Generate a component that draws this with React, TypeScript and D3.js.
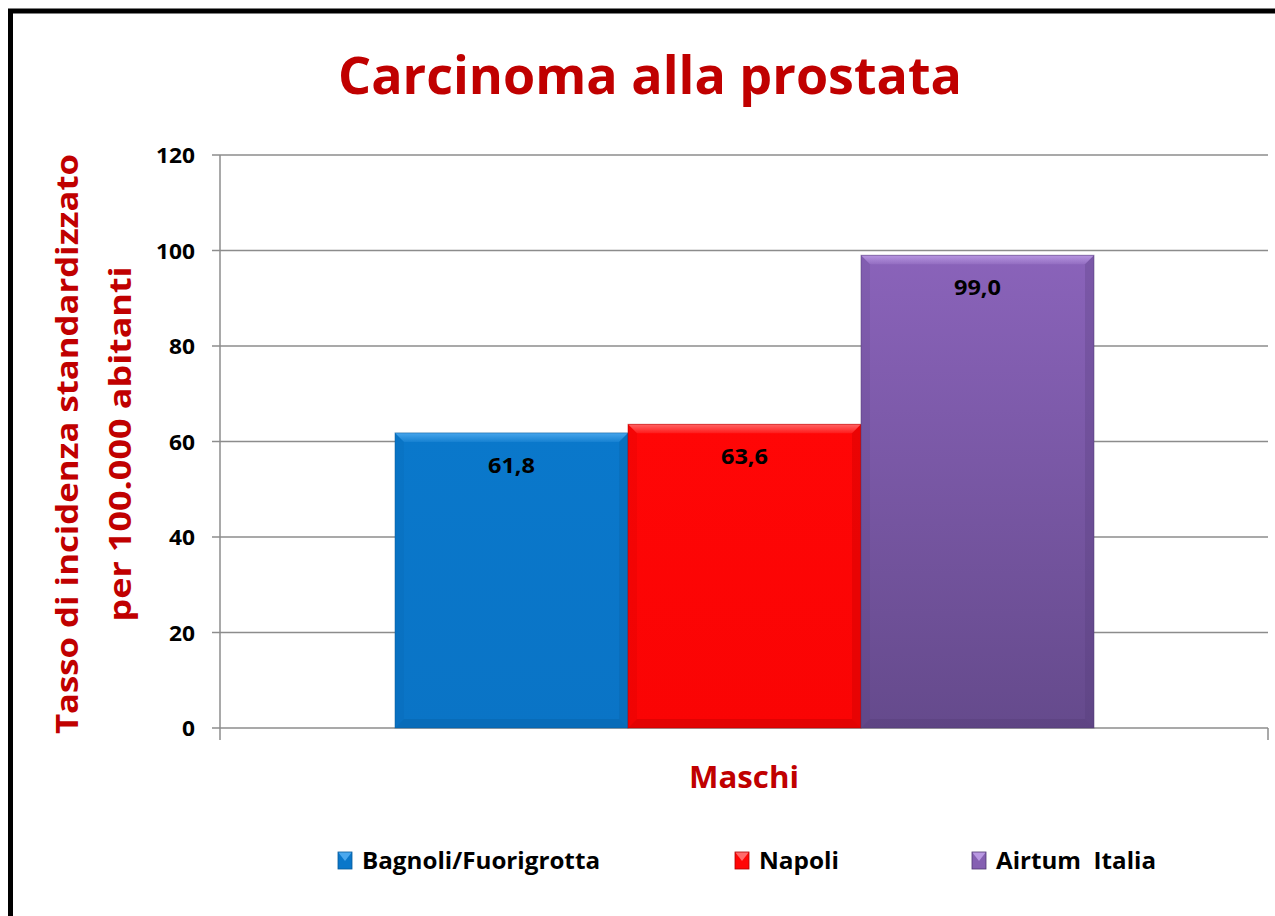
import React from "react";
import * as d3 from "d3";

const categories = ["Maschi"];
const seriesNames = ["Bagnoli/Fuorigrotta", "Napoli", "Airtum  Italia"];
const seriesValues = [61.8, 63.6, 99.0];
const valueLabels = ["61,8", "63,6", "99,0"];
const yTicks = [0, 20, 40, 60, 80, 100, 120];

const colors = [
  { base: "#0A77CA", light: "#4AA8EE", dark: "#075A9A", top: "#0A78CB", bottom: "#0A74C6" },
  { base: "#FF0606", light: "#FF6A6A", dark: "#B00000", top: "#FF0606", bottom: "#FA0404" },
  { base: "#8560B2", light: "#B998E2", dark: "#4E3872", top: "#8A63BA", bottom: "#654A8C" },
];

const W = 1275;
const H = 916;
const FONT = "'Open Sans', 'DejaVu Sans', sans-serif";
const RED = "#C00000";

export default function App() {
  const left = 220;
  const right = 1268;
  const top = 155;
  const bottom = 728;

  const y = d3.scaleLinear().domain([0, 120]).range([bottom, top]);
  const x1 = d3.scaleBand<string>().domain(seriesNames).range([395, 1094]).padding(0);

  const bev = 9;

  return (
    <svg width={W} height={H} style={{ display: "block", position: "absolute", left: 0, top: 0 }}>
      <defs>
        {colors.map((c, i) => (
          <linearGradient key={i} id={`g${i}`} x1="0" y1="0" x2="0" y2="1">
            <stop offset="0" stopColor={c.top} />
            <stop offset="1" stopColor={c.bottom} />
          </linearGradient>
        ))}
        {colors.map((c, i) => (
          <linearGradient key={`t${i}`} id={`t${i}`} x1="0" y1="0" x2="0" y2="1">
            <stop offset="0" stopColor={c.light} stopOpacity={0.95} />
            <stop offset="1" stopColor={c.light} stopOpacity={0.2} />
          </linearGradient>
        ))}
      </defs>
      <rect x={0} y={0} width={W} height={H} fill="#fff" />
      {/* frame */}
      <path d={`M10.5 ${H + 10} L10.5 11 L${W + 10} 11`} fill="none" stroke="#000" strokeWidth={5} />

      {/* title */}
      <text x={650} y={94} textAnchor="middle" fontFamily={FONT} fontWeight="bold" fontSize={52} fill={RED} textLength={624} lengthAdjust="spacingAndGlyphs">
        Carcinoma alla prostata
      </text>

      {/* grid */}
      {yTicks.map((t) => (
        <g key={t}>
          <line x1={left} x2={right} y1={y(t)} y2={y(t)} stroke="#8C8C8C" strokeWidth={1.5} />
          <line x1={212} x2={left} y1={y(t)} y2={y(t)} stroke="#8C8C8C" strokeWidth={1.5} />
          <text x={195} y={y(t) + 8} textAnchor="end" fontFamily={FONT} fontWeight="bold" fontSize={21} fill="#000"
            textLength={String(t).length * 13} lengthAdjust="spacingAndGlyphs">
            {t}
          </text>
        </g>
      ))}
      <line x1={left} x2={left} y1={top} y2={740} stroke="#8C8C8C" strokeWidth={1.5} />
      <line x1={right} x2={right} y1={bottom} y2={740} stroke="#8C8C8C" strokeWidth={1.5} />

      {/* bars */}
      {seriesNames.map((s, i) => {
        const bx = x1(s)!;
        const bw = x1.bandwidth();
        const by = y(seriesValues[i]);
        const bh = bottom - by;
        const c = colors[i];
        return (
          <g key={s}>
            <rect x={bx} y={by} width={bw} height={bh} fill={`url(#g${i})`} />
            <polygon points={`${bx},${by} ${bx + bw},${by} ${bx + bw - bev},${by + bev} ${bx + bev},${by + bev}`} fill={`url(#t${i})`} />
            <polygon points={`${bx},${by} ${bx + bev},${by + bev} ${bx + bev},${bottom - bev} ${bx},${bottom}`} fill={c.dark} opacity={0.12} />
            <polygon points={`${bx + bw},${by} ${bx + bw - bev},${by + bev} ${bx + bw - bev},${bottom - bev} ${bx + bw},${bottom}`} fill={c.dark} opacity={0.25} />
            <polygon points={`${bx},${bottom} ${bx + bev},${bottom - bev} ${bx + bw - bev},${bottom - bev} ${bx + bw},${bottom}`} fill={c.dark} opacity={0.3} />
            <rect x={bx} y={by} width={bw} height={bh} fill="none" stroke={c.dark} strokeWidth={1} opacity={0.5} />
            <text x={bx + bw / 2} y={by + 40} textAnchor="middle" fontFamily={FONT} fontWeight="bold" fontSize={22} fill="#000"
              textLength={47} lengthAdjust="spacingAndGlyphs">
              {valueLabels[i]}
            </text>
          </g>
        );
      })}

      {/* axis titles */}
      <text x={744} y={788} textAnchor="middle" fontFamily={FONT} fontWeight="bold" fontSize={30} fill={RED} textLength={110} lengthAdjust="spacingAndGlyphs">
        {categories[0]}
      </text>
      <g transform="translate(78,444) rotate(-90)">
        <text x={0} y={0} textAnchor="middle" fontFamily={FONT} fontWeight="bold" fontSize={31} fill={RED} textLength={580} lengthAdjust="spacingAndGlyphs">
          Tasso di incidenza standardizzato
        </text>
        <text x={0} y={53} textAnchor="middle" fontFamily={FONT} fontWeight="bold" fontSize={31} fill={RED} textLength={355} lengthAdjust="spacingAndGlyphs">
          per 100.000 abitanti
        </text>
      </g>

      {/* legend */}
      {seriesNames.map((s, i) => {
        const lx = [338, 735, 972][i];
        const len = [238, 80, 160][i];
        const c = colors[i];
        return (
          <g key={s}>
            <rect x={lx} y={852} width={14} height={17} fill={c.base} />
            <polygon points={`${lx},852 ${lx + 14},852 ${lx + 7},861`} fill={c.light} />
            <rect x={lx} y={852} width={14} height={17} fill="none" stroke={c.dark} strokeWidth={0.8} />
            <text x={lx + 24} y={869} fontFamily={FONT} fontWeight="bold" fontSize={23} fill="#000"
              textLength={len} lengthAdjust="spacingAndGlyphs" style={{ whiteSpace: "pre" }}>
              {s}
            </text>
          </g>
        );
      })}
    </svg>
  );
}
